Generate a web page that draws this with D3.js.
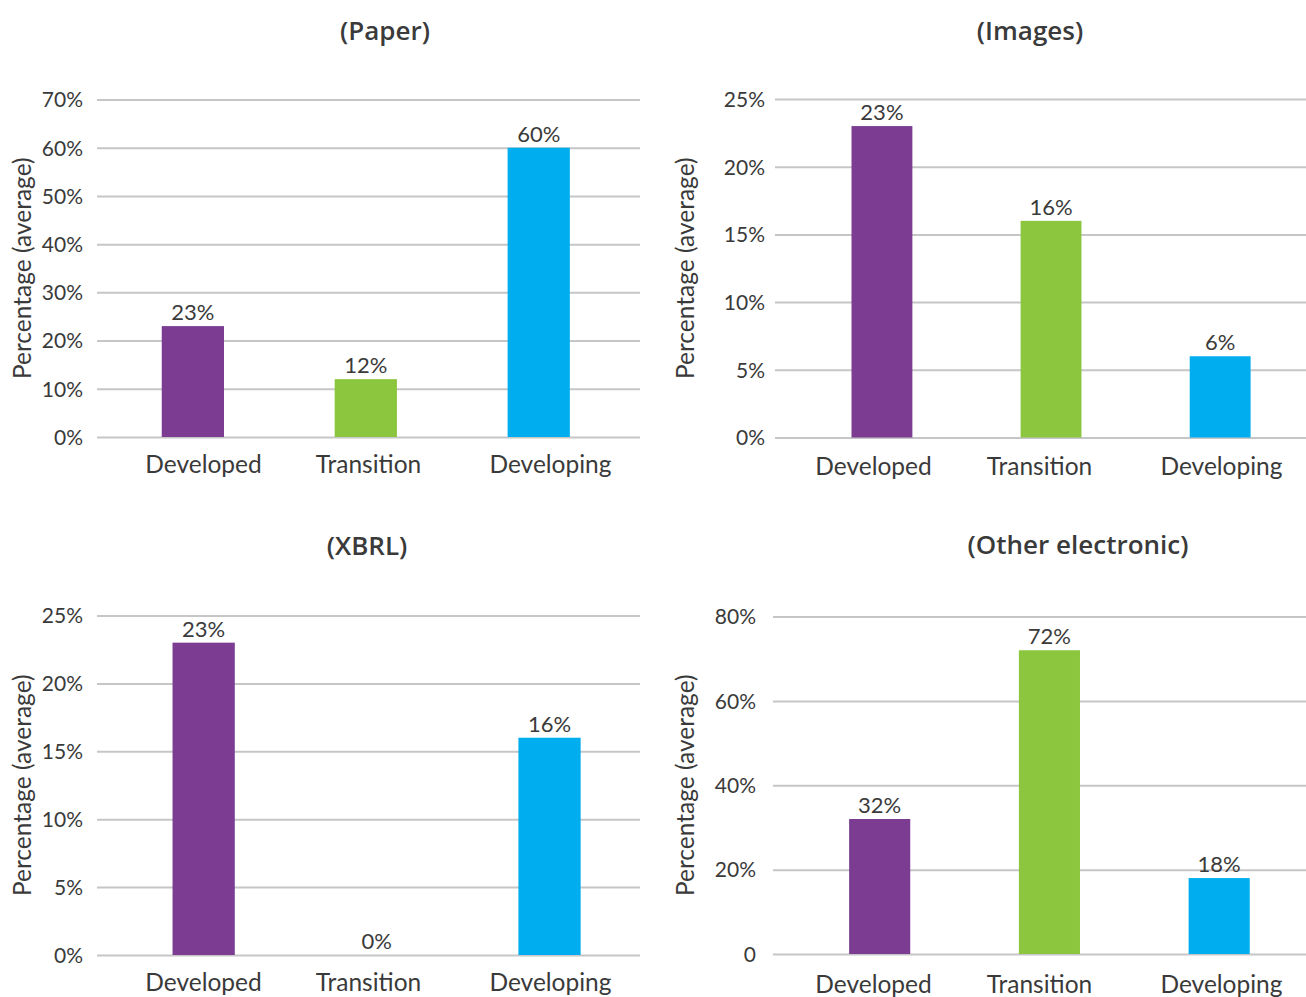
<!DOCTYPE html>
<html><head><meta charset="utf-8">
<script src="https://cdn.jsdelivr.net/npm/d3@7"></script>
<style>
html,body{margin:0;padding:0;background:#fff;}
svg{display:block;}
text{font-family:Lato,"Open Sans",sans-serif;fill:#3a3a3a;}
</style></head>
<body>
<svg id="chart" width="1306" height="997"></svg>
<script>
// ---- data ----
const categories = ["Developed", "Transition", "Developing"];
const panelTitles = ["(Paper)", "(Images)", "(XBRL)", "(Other electronic)"];
const paperValues = [23, 12, 60];
const imagesValues = [23, 16, 6];
const xbrlValues = [23, 0, 16];
const otherValues = [32, 72, 18];
const paperTicks = [0, 10, 20, 30, 40, 50, 60, 70];
const imagesTicks = [0, 5, 10, 15, 20, 25];
const xbrlTicks = [0, 5, 10, 15, 20, 25];
const otherTicks = [0, 20, 40, 60, 80];
const otherTickLabels = ["0", "20%", "40%", "60%", "80%"];
const yAxisTitle = "Percentage (average)";
const barColors = ["#7B3C92", "#8CC63F", "#00AEEF"];

// ---- layout (positions / styles) ----
const layouts = [
  {x0: 97, x1: 640, y0: 437, y1: 99.5, align: 0.48, tickX: 83, yTitleX: 22, titleX: 385, titleY: 40, catY: 473, labelX: [203, 368, 550]},
  {x0: 775, x1: 1306, y0: 437.5, y1: 99, align: 0.58, tickX: 765, yTitleX: 685, titleX: 1030, titleY: 40, catY: 475, labelX: [873, 1039, 1221]},
  {x0: 97, x1: 640, y0: 955, y1: 615.5, align: 0.56, tickX: 83, yTitleX: 22, titleX: 367, titleY: 555, catY: 991, labelX: [203, 368, 550]},
  {x0: 773, x1: 1306, y0: 954, y1: 616.5, align: 0.575, tickX: 756, yTitleX: 685, titleX: 1078, titleY: 554, catY: 993, labelX: [873, 1039, 1221]}
];

const panels = [
  {title: panelTitles[0], values: paperValues, ticks: paperTicks, tickLabels: paperTicks.map(t => t + "%")},
  {title: panelTitles[1], values: imagesValues, ticks: imagesTicks, tickLabels: imagesTicks.map(t => t + "%")},
  {title: panelTitles[2], values: xbrlValues, ticks: xbrlTicks, tickLabels: xbrlTicks.map(t => t + "%")},
  {title: panelTitles[3], values: otherValues, ticks: otherTicks, tickLabels: otherTickLabels}
];

const svg = d3.select("#chart");

panels.forEach((p, i) => {
  const L = layouts[i];
  const g = svg.append("g");
  const yMax = p.ticks[p.ticks.length - 1];
  const y = d3.scaleLinear().domain([0, yMax]).range([L.y0, L.y1]);
  const x = d3.scaleBand().domain(categories).range([L.x0, L.x1])
    .paddingInner(0.64).paddingOuter(0.39).align(L.align);
  const xLabel = d3.scaleOrdinal().domain(categories).range(L.labelX);

  // gridlines + y tick labels
  const yAxis = d3.axisLeft(y).tickValues(p.ticks)
    .tickSize(-(L.x1 - L.x0)).tickSizeOuter(0)
    .tickFormat((d, k) => p.tickLabels[k]);
  const ya = g.append("g").attr("transform", `translate(${L.x0},0)`).call(yAxis);
  ya.select(".domain").remove();
  ya.selectAll(".tick line").attr("stroke", "#c6c6c8").attr("stroke-width", 2);
  ya.selectAll(".tick text").attr("x", L.tickX - L.x0).attr("dy", "0.35em")
    .style("font-size", "21px").style("font-family", "Lato, sans-serif").attr("fill", "#3a3a3a");

  // bars
  g.selectAll("rect.bar").data(p.values).enter().append("rect")
    .attr("class", "bar")
    .attr("x", (d, k) => x(categories[k]))
    .attr("width", x.bandwidth())
    .attr("y", d => y(d))
    .attr("height", d => L.y0 - y(d))
    .attr("fill", (d, k) => barColors[k]);

  // value labels
  g.selectAll("text.val").data(p.values).enter().append("text")
    .attr("class", "val")
    .attr("x", (d, k) => x(categories[k]) + x.bandwidth() / 2)
    .attr("y", d => y(d) - 6)
    .attr("text-anchor", "middle")
    .style("font-size", "22px")
    .text(d => d + "%");

  // x category labels
  const xAxis = d3.axisBottom(xLabel).tickSize(0).tickSizeOuter(0);
  const xa = g.append("g").attr("transform", `translate(0,${L.catY - 17})`).call(xAxis);
  xa.select(".domain").remove();
  xa.selectAll(".tick text").attr("y", 0).attr("dy", "0.71em")
    .style("font-size", "24.5px").style("font-family", "Lato, sans-serif").attr("fill", "#3a3a3a");

  // y axis title
  g.append("text")
    .attr("transform", `translate(${L.yTitleX + 9},${(L.y0 + L.y1) / 2}) rotate(-90)`)
    .attr("text-anchor", "middle")
    .style("font-size", "24.5px")
    .text(yAxisTitle);

  // panel title
  g.append("text")
    .attr("x", L.titleX).attr("y", L.titleY)
    .attr("text-anchor", "middle")
    .style("font-family", "'Open Sans', sans-serif")
    .style("font-size", "26px").style("font-weight", "600")
    .text(p.title);
});
</script>
</body></html>
